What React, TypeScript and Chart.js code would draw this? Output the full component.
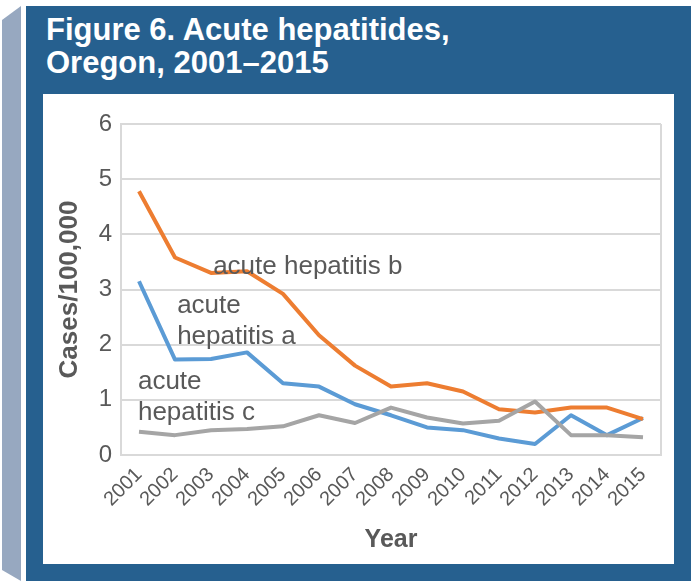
import React, { useEffect, useRef } from "react";
import { Chart, registerables } from "chart.js";

Chart.register(...registerables);

const years = ["2001","2002","2003","2004","2005","2006","2007","2008","2009","2010","2011","2012","2013","2014","2015"];
const hepA = [3.15, 1.73, 1.74, 1.86, 1.3, 1.24, 0.92, 0.72, 0.5, 0.45, 0.3, 0.2, 0.72, 0.36, 0.67];
const hepB = [4.78, 3.58, 3.3, 3.33, 2.92, 2.17, 1.62, 1.24, 1.3, 1.15, 0.83, 0.77, 0.86, 0.86, 0.65];
const hepC = [0.42, 0.36, 0.45, 0.47, 0.52, 0.72, 0.58, 0.86, 0.68, 0.57, 0.62, 0.97, 0.36, 0.36, 0.32];
const seriesNames = ["acute hepatitis a", "acute hepatitis b", "acute hepatitis c"];
// in-chart label lines and anchors (category index of left edge, value of first line centre)
const labelLines = [["acute", "hepatitis a"], ["acute hepatitis b"], ["acute", "hepatitis c"]];
const labelAnchorIndex = [1.06, 2.06, -0.03];
const labelAnchorValue = [2.7, 3.41, 1.32];
const yTicks = [0, 1, 2, 3, 4, 5, 6];

const FONT = "'Liberation Sans', Arial, Helvetica, sans-serif";
const TEXT = "#595959";
const GRID = "#d9d9d9";

const seriesLabelPlugin = {
  id: "seriesLabels",
  afterDatasetsDraw(chart: any) {
    const { ctx, scales } = chart;
    const x = scales.x, y = scales.y;
    ctx.save();
    ctx.font = `26px ${FONT}`;
    ctx.fillStyle = TEXT;
    ctx.textAlign = "left";
    ctx.textBaseline = "middle";
    const lineGap = 31;
    labelLines.forEach((lines, i) => {
      const px = x.getPixelForValue(labelAnchorIndex[i]);
      const py = y.getPixelForValue(labelAnchorValue[i]);
      lines.forEach((t, k) => ctx.fillText(t, px, py + k * lineGap));
    });
    ctx.restore();
  },
};

const borderPlugin = {
  id: "areaBorder",
  beforeDatasetsDraw(chart: any) {
    const { ctx, chartArea } = chart;
    ctx.save();
    ctx.strokeStyle = GRID;
    ctx.lineWidth = 2;
    ctx.beginPath();
    ctx.moveTo(chartArea.right, chartArea.top);
    ctx.lineTo(chartArea.right, chartArea.bottom);
    ctx.stroke();
    ctx.restore();
  },
};

function LineChart() {
  const ref = useRef<HTMLCanvasElement>(null);
  useEffect(() => {
    const chart = new Chart(ref.current!, {
      type: "line",
      data: {
        labels: years,
        datasets: [
          { label: seriesNames[0], data: hepA, borderColor: "#5B9BD5", backgroundColor: "#5B9BD5", order: 3 },
          { label: seriesNames[1], data: hepB, borderColor: "#ED7D31", backgroundColor: "#ED7D31", order: 2 },
          { label: seriesNames[2], data: hepC, borderColor: "#A5A5A5", backgroundColor: "#A5A5A5", order: 1 },
        ],
      },
      options: {
        animation: false,
        responsive: false,
        devicePixelRatio: 1,
        elements: {
          line: { borderWidth: 4, tension: 0, borderJoinStyle: "round", borderCapStyle: "butt" },
          point: { radius: 0, hoverRadius: 0 },
        },
        layout: { padding: { left: 0, top: 30, right: 13, bottom: 0 } },
        plugins: { legend: { display: false }, tooltip: { enabled: false }, title: { display: false } },
        scales: {
          x: {
            offset: true,
            grid: { display: false, drawTicks: false },
            border: { display: true, color: GRID, width: 2 },
            ticks: {
              color: TEXT,
              font: { family: FONT, size: 20 },
              minRotation: 45,
              maxRotation: 45,
              padding: 8,
              autoSkip: false,
            },
            title: { display: true, text: "Year", color: TEXT, font: { family: FONT, size: 25, weight: "bold" }, padding: { top: 0, bottom: 9 } },
            afterFit(s: any) { s.height = 109; },
          },
          y: {
            min: 0,
            max: 6,
            afterBuildTicks(s: any) { s.ticks = yTicks.map((v) => ({ value: v })); },
            grid: { color: GRID, lineWidth: 2, drawTicks: false },
            border: { display: true, color: GRID, width: 2 },
            ticks: { color: TEXT, font: { family: FONT, size: 24 }, padding: 9 },
            title: { display: true, text: "Cases/100,000", color: TEXT, font: { family: FONT, size: 26, weight: "bold" }, padding: { top: 11, bottom: 0 } },
            afterFit(s: any) { s.width = 78; },
          },
        },
      },
      plugins: [borderPlugin, seriesLabelPlugin],
    });
    return () => chart.destroy();
  }, []);
  return <canvas ref={ref} width={631} height={470} style={{ display: "block", width: 631, height: 470 }} />;
}

export default function App() {
  return (
    <div style={{ position: "fixed", left: 0, top: 0, width: 691, height: 581, background: "#ffffff", overflow: "hidden" }}>
      <div
        style={{
          position: "absolute", left: 2, top: 0, width: 19, height: 581, background: "#97a8c0",
          clipPath: "polygon(0 20px, 100% 6px, 100% 100%, 0 570px)",
        }}
      />
      <div style={{ position: "absolute", left: 26, top: 6, width: 665, height: 575, background: "#26608f" }} />
      <div
        style={{
          position: "absolute", left: 46, top: 13, color: "#ffffff", fontFamily: FONT, fontWeight: "bold",
          fontSize: 31, lineHeight: "33px", whiteSpace: "nowrap",
        }}
      >
        <div>Figure 6. Acute hepatitides,</div>
        <div>Oregon, 2001–2015</div>
      </div>
      <div style={{ position: "absolute", left: 43, top: 94, width: 631, height: 470, background: "#ffffff" }}>
        <LineChart />
      </div>
    </div>
  );
}
